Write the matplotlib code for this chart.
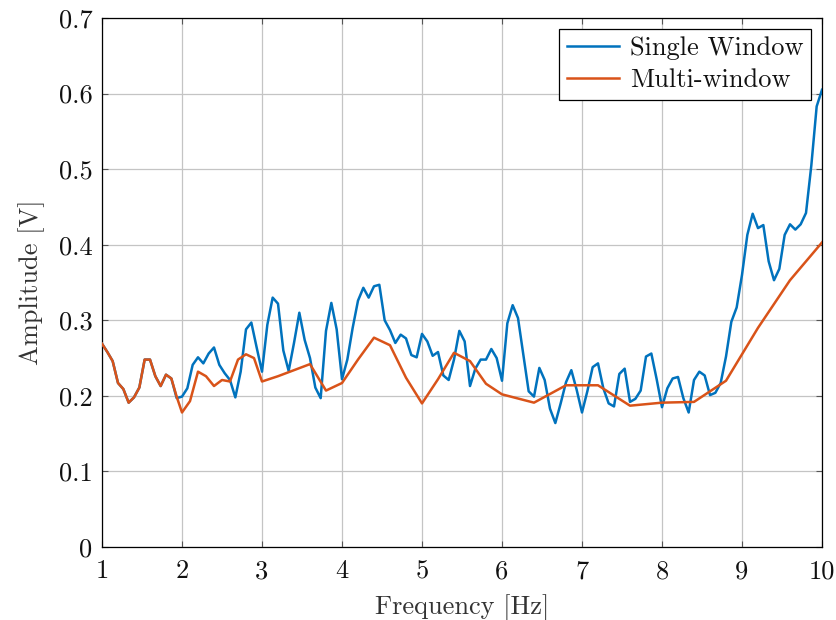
import numpy as np
import matplotlib
matplotlib.use("Agg")
import matplotlib.pyplot as plt

# Single-window spectrum: uniform grid, 1/15 Hz resolution from 1 to 10 Hz
single_freq = 1.0 + np.arange(136) / 15.0
single_amp = [
    0.269, 0.258, 0.246, 0.217, 0.209, 0.191, 0.198, 0.211, 0.248, 0.248,
    0.226, 0.213, 0.228, 0.223, 0.197, 0.199, 0.210, 0.241, 0.251, 0.243,
    0.256, 0.264, 0.241, 0.230, 0.221, 0.198, 0.232, 0.288, 0.297, 0.264,
    0.232, 0.294, 0.330, 0.322, 0.260, 0.233, 0.270, 0.310, 0.274, 0.250,
    0.211, 0.197, 0.286, 0.323, 0.288, 0.222, 0.248, 0.290, 0.326, 0.343,
    0.330, 0.345, 0.347, 0.300, 0.287, 0.270, 0.281, 0.276, 0.254, 0.251,
    0.282, 0.272, 0.253, 0.258, 0.227, 0.221, 0.248, 0.286, 0.272, 0.213,
    0.236, 0.248, 0.248, 0.262, 0.250, 0.220, 0.296, 0.320, 0.303, 0.254,
    0.206, 0.199, 0.237, 0.221, 0.183, 0.164, 0.190, 0.218, 0.234, 0.208,
    0.178, 0.206, 0.238, 0.243, 0.210, 0.190, 0.186, 0.229, 0.236, 0.192,
    0.196, 0.207, 0.252, 0.256, 0.222, 0.185, 0.210, 0.223, 0.225, 0.197,
    0.178, 0.221, 0.232, 0.227, 0.201, 0.204, 0.217, 0.252, 0.298, 0.317,
    0.360, 0.413, 0.441, 0.422, 0.426, 0.378, 0.353, 0.368, 0.413, 0.427,
    0.420, 0.427, 0.442, 0.505, 0.583, 0.605,
]

# Multi-window spectrum: coarser resolution at higher frequencies
multi_freq = [
    1.0, 1.067, 1.133, 1.2, 1.267, 1.333, 1.4, 1.467, 1.533, 1.6,
    1.667, 1.733, 1.8, 1.867, 1.933, 2.0, 2.1, 2.2, 2.3, 2.4,
    2.5, 2.6, 2.7, 2.8, 2.9, 3.0, 3.2, 3.4, 3.6, 3.8,
    4.0, 4.2, 4.4, 4.6, 4.8, 5.0, 5.2, 5.4, 5.6, 5.8,
    6.0, 6.4, 6.8, 7.2, 7.6, 8.0, 8.4, 8.8, 9.2, 9.6, 10.0,
]
multi_amp = [
    0.269, 0.258, 0.246, 0.217, 0.209, 0.191, 0.198, 0.211, 0.248, 0.248,
    0.226, 0.213, 0.228, 0.223, 0.199, 0.178, 0.193, 0.232, 0.226, 0.213,
    0.221, 0.219, 0.248, 0.255, 0.250, 0.219, 0.226, 0.234, 0.242, 0.207,
    0.217, 0.248, 0.277, 0.267, 0.224, 0.190, 0.222, 0.257, 0.246, 0.216,
    0.202, 0.191, 0.214, 0.214, 0.187, 0.191, 0.192, 0.220, 0.290, 0.353, 0.403,
]

x_ticks = [1, 2, 3, 4, 5, 6, 7, 8, 9, 10]
y_ticks = [0, 0.1, 0.2, 0.3, 0.4, 0.5, 0.6, 0.7]

plt.rcParams["font.family"] = ["cmr10", "DejaVu Serif"]
plt.rcParams["axes.formatter.use_mathtext"] = True
plt.rcParams["mathtext.fontset"] = "cm"

FS = 19

fig = plt.figure(figsize=(8.37, 6.2), dpi=100)
ax = fig.add_axes([102 / 837, 1 - 547 / 620, 720 / 837, 529 / 620])

ax.plot(single_freq, single_amp, color="#0072BD", lw=1.8, label="Single Window", zorder=3)
ax.plot(multi_freq, multi_amp, color="#D95319", lw=1.8, label="Multi-window", zorder=4)

ax.set_xlim(1, 10)
ax.set_ylim(0, 0.7)
ax.set_xticks(x_ticks)
ax.set_yticks(y_ticks)
ax.set_xticklabels([str(t) for t in x_ticks])
ax.set_yticklabels(["0"] + [f"{t:.1f}" for t in y_ticks[1:]])

ax.grid(True, color="#c4c4c4", lw=0.9)
ax.set_axisbelow(True)
ax.tick_params(direction="in", length=4.5, width=0.8, color="#555555",
               top=True, right=True, labelsize=FS, labelcolor="#111111")
ax.tick_params(axis="x", pad=9)
ax.tick_params(axis="y", pad=7)
for s in ax.spines.values():
    s.set_linewidth(0.9)
    s.set_color("black")

ax.set_xlabel("Frequency [Hz]", fontsize=FS, color="#333333", labelpad=8)
ax.set_ylabel("Amplitude [V]", fontsize=FS, color="#333333", labelpad=10)

leg = ax.legend(loc="upper right", fontsize=FS, frameon=True, fancybox=False,
                edgecolor="black", framealpha=1, handlelength=2.0,
                handletextpad=0.4, borderaxespad=0.4, borderpad=0.3,
                labelspacing=0.3)
leg.get_frame().set_linewidth(0.9)
for t in leg.get_texts():
    t.set_color("#111111")

fig.savefig("out.png", dpi=100)
